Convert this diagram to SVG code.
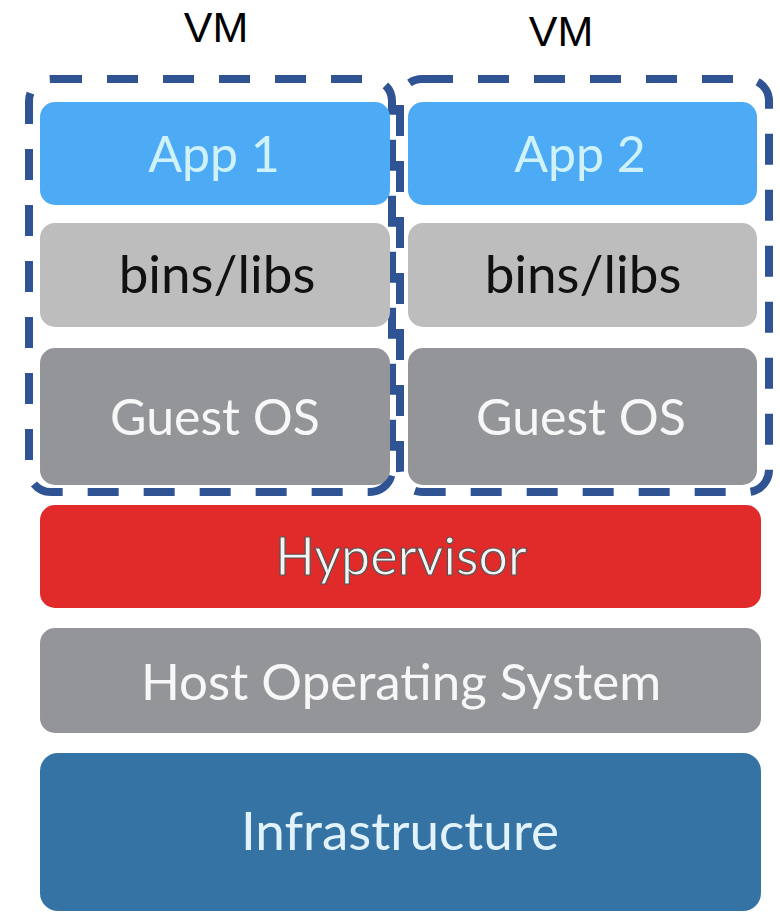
<svg xmlns="http://www.w3.org/2000/svg" width="780" height="913" viewBox="0 0 780 913">
<style>
.vm{fill:none;stroke:#2F5393;stroke-width:8;stroke-dasharray:31 25}
.t{font-family:Lato,"Open Sans",sans-serif;text-anchor:middle}
.lbl{font-family:"Liberation Sans",Arial,sans-serif;font-size:43px;fill:#000;text-anchor:middle}
</style>
<rect width="780" height="913" fill="#fff"/>
<text class="lbl" x="216" y="42">VM</text>
<text class="lbl" x="561" y="46">VM</text>
<g id="vm1">
<rect class="vm" x="29" y="79" width="363" height="413" rx="22"/>
</g>
<g id="vm2">
<rect class="vm" x="400" y="79" width="369" height="413" rx="22"/>
</g>
<g id="app1"><rect x="40" y="102" width="350" height="103" rx="15" fill="#4DABF5"/><text class="t" x="214" y="172" font-size="50" fill="#CFF2F8">App 1</text></g>
<g id="bins1"><rect x="40" y="223" width="350" height="104" rx="15" fill="#BDBDBD"/><text class="t" x="217" y="293" font-size="53" fill="#111">bins/libs</text></g>
<g id="guest1"><rect x="40" y="348" width="350" height="137" rx="15" fill="#939598"/><text class="t" x="215" y="435" font-size="50" fill="#F7F7F7">Guest OS</text></g>
<g id="app2"><rect x="408" y="102" width="349" height="103" rx="15" fill="#4DABF5"/><text class="t" x="580" y="172" font-size="50" fill="#CFF2F8">App 2</text></g>
<g id="bins2"><rect x="408" y="223" width="349" height="104" rx="15" fill="#BDBDBD"/><text class="t" x="583" y="293" font-size="53" fill="#111">bins/libs</text></g>
<g id="guest2"><rect x="408" y="348" width="349" height="137" rx="15" fill="#939598"/><text class="t" x="581" y="435" font-size="50" fill="#F7F7F7">Guest OS</text></g>
<g id="hypervisor"><rect x="40" y="505" width="721" height="103" rx="15" fill="#E12B2B"/><text class="t" x="401" y="575" font-size="52" fill="#F4F4F4" stroke="#555" stroke-width="1.2">Hypervisor</text></g>
<g id="hostos"><rect x="40" y="628" width="721" height="105" rx="15" fill="#939598"/><text class="t" x="401" y="700" font-size="51" fill="#F7F7F7">Host Operating System</text></g>
<g id="infra"><rect x="40" y="753" width="721" height="158" rx="18" fill="#3573A5"/><text class="t" x="400" y="850" font-size="53" fill="#E2F2FA">Infrastructure</text></g>
<g id="connectors"/>
</svg>
